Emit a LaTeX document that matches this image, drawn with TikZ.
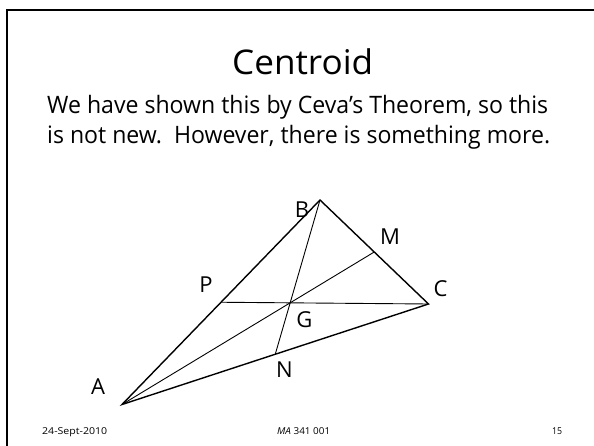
\documentclass[tikz,border=0pt]{standalone}
\usepackage{fontspec}
\setmainfont{Open Sans}
\usetikzlibrary{calc}
\newcommand{\fitw}[2]{\resizebox{#1}{\height}{#2}}
\begin{document}
\begin{tikzpicture}[x=1pt,y=-1pt,
  side/.style={line width=1.4pt,line join=miter},
  median/.style={line width=0.9pt},
  lbl/.style={inner sep=0pt,font=\fontsize{22}{26}\selectfont},
  body/.style={inner sep=0pt,anchor=base west,font=\fontsize{24}{28}\selectfont},
  foot/.style={inner sep=0pt,anchor=base west,font=\fontsize{9.5}{11}\selectfont}]
\useasboundingbox (0,0) rectangle (594,446);
\draw[line width=2pt] (6.5,446) -- (6.5,10) -- (594,10);
\node[inner sep=0pt,anchor=base west,font=\fontsize{34}{40}\selectfont] (title) at (232,75) {\fitw{141pt}{Centroid}};
\node[body] (l1) at (47,114) {\fitw{501pt}{We have shown this by Ceva's Theorem, so this}};
\node[body] (l2) at (47,144) {\fitw{503pt}{is not new.\ \ However, there is something more.}};
\coordinate (A) at (122,404.5);
\coordinate (B) at (320,200);
\coordinate (C) at (428.5,304);
\coordinate (P) at ($(A)!0.5!(B)$);
\coordinate (M) at ($(B)!0.5!(C)$);
\coordinate (N) at ($(A)!0.5!(C)$);
\draw[side] (A) -- (B) -- (C) -- cycle;
\draw[median] (A) -- (M);
\draw[median] (B) -- (N);
\draw[median] (C) -- (P);
\node[lbl] (lA) at (98,387) {A};
\node[lbl] (lB) at (302,210) {B};
\node[lbl] (lC) at (440.5,289) {C};
\node[lbl] (lM) at (390,237) {M};
\node[lbl] (lP) at (206,284.5) {P};
\node[lbl] (lG) at (304.5,319.5) {G};
\node[lbl] (lN) at (284.5,370) {N};
\node[foot] (f1) at (42,434.5) {\fitw{65pt}{24-Sept-2010}};
\node[foot] (f2) at (277,434.5) {\fitw{53pt}{\itshape MA\normalfont\ 341 001}};
\node[foot] (f3) at (552,434.5) {\fitw{10pt}{15}};
\end{tikzpicture}
\end{document}
